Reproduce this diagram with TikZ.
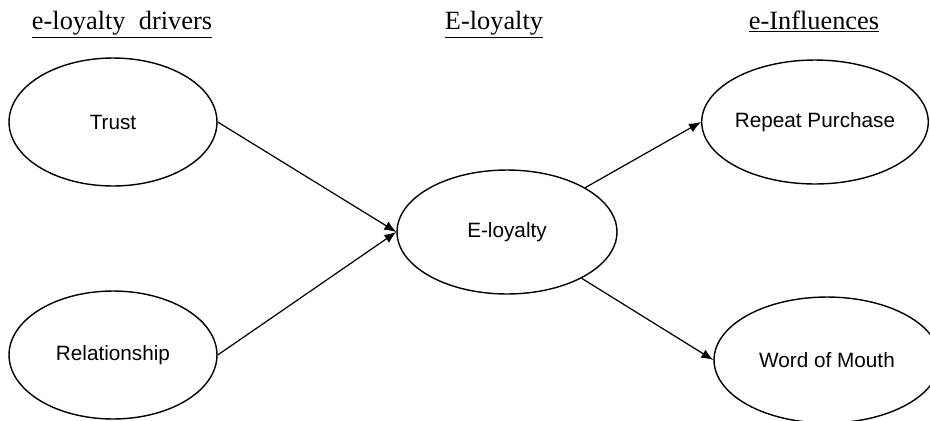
\documentclass[tikz,border=0pt]{standalone}
\usepackage{fontspec}
\setmainfont{Liberation Serif}
\setsansfont{Liberation Sans}
\usetikzlibrary{shapes.geometric,arrows.meta}

\begin{document}
\begin{tikzpicture}[
        x=0.02cm, y=-0.02cm,
        factor/.style={
            ellipse,
            draw,
            line width=0.8pt,
            inner sep=0pt,
            font=\fontsize{11.8}{14}\selectfont\sffamily
        },
        heading/.style={
            anchor=base,
            inner sep=0pt,
            font=\fontsize{15}{18}\selectfont
        },
        link/.style={
            line width=0.7pt,
            -{Latex[length=2.4mm,width=1.9mm]}
        }
    ]
    \useasboundingbox (0,0) rectangle (930,420);

    % column titles
    \node[heading] (hdrive) at (122,29) {\underline{e-loyalty\ \ drivers}};
    \node[heading] (hloyal) at (494,29) {\underline{E-loyalty}};
    \node[heading] (hinflu) at (814,29) {\underline{e-Influences}};

    % the five ellipses
    \node[factor, minimum width=4.16cm, minimum height=2.56cm] (trust) at (113,122) {Trust};
    \node[factor, minimum width=4.16cm, minimum height=2.56cm] (relation) at (113,355) {Relationship};
    \node[factor, minimum width=4.4cm, minimum height=2.48cm] (eloyalty) at (507,232) {E-loyalty};
    \node[factor, minimum width=4.48cm, minimum height=2.48cm] (repeat) at (815,122) {Repeat Purchase};
    \node[factor, minimum width=4.52cm, minimum height=2.52cm] (wom) at (827,360) {Word of Mouth};

    % arrows
    \draw[link] (trust.east) -- (eloyalty.west);
    \draw[link] (relation.east) -- (eloyalty.west);
    \draw[link] (eloyalty) -- (repeat.west);
    \draw[link] (eloyalty) -- (wom.west);
\end{tikzpicture}
\end{document}
